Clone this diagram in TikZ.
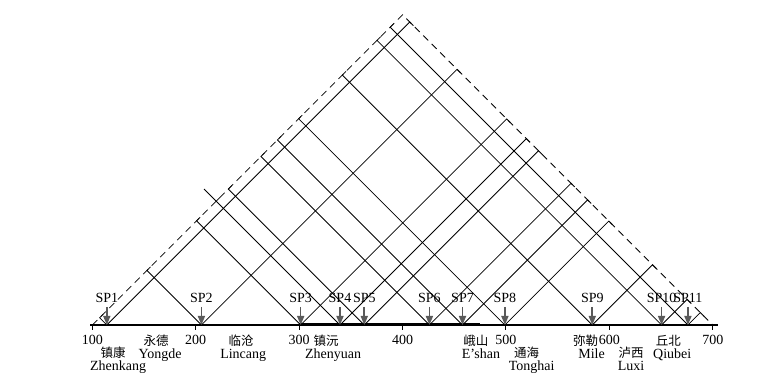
\documentclass[tikz,border=0pt]{standalone}
\usepackage{fontspec}
\setmainfont{Liberation Serif}
\newfontfamily\cjk{Noto Sans CJK SC}
\usetikzlibrary{arrows.meta, positioning}
\definecolor{shotgray}{RGB}{90, 90, 90}

\begin{document}
\begin{tikzpicture}[x=1.034pt, y=1.034pt,
    ray/.style={line width=0.8pt},
    bound/.style={line width=0.8pt, dash pattern=on 7pt off 5pt},
    shot/.style={-{Triangle[length=9pt, width=7pt]}, line width=1.6pt, shotgray},
    splabel/.style={inner sep=0pt, anchor=base, font=\fontsize{14}{16}\selectfont},
    ticklabel/.style={inner sep=0pt, anchor=base, font=\fontsize{14}{16}\selectfont},
    cnname/.style={inner sep=0pt, font=\cjk\fontsize{12.5}{14}\selectfont},
    pyname/.style={inner sep=0pt, text height=9.5pt, text depth=3pt, font=\fontsize{14}{16}\selectfont}]
  \useasboundingbox (10.7,-54.2) rectangle (748.6,314.3);

  % coverage boundary
  \coordinate (west) at (100,0);
  \coordinate (apex) at (400,300);
  \coordinate (east) at (700,0);
  \draw[bound] (west) -- (apex) -- (east);

  % rays of each shot point, closed by a short tick
  \foreach \n/\u in {1/114, 2/205.5, 3/301.5, 4/339.5, 5/363, 6/426, 7/458, 8/499, 9/583.5, 10/650.5, 11/676} {
    \coordinate (sp\n) at (\u,0);
    \coordinate (lt\n) at ({(\u+100)/2},{(\u-100)/2});
    \coordinate (rt\n) at ({(\u+700)/2},{(700-\u)/2});
    \draw[ray] ([shift={(3.5,3.5)}]lt\n) -- (lt\n) -- (sp\n) -- (rt\n) -- ([shift={(3.5,-3.5)}]rt\n);
  }
  \coordinate (lt4x) at (208,131.5);
  \draw[ray] (lt4) -- (lt4x);

  % profile axis
  \coordinate (axw) at (98,0);
  \coordinate (axe) at (705,0);
  \draw[line width=1.8pt] (axw) -- (axe);
  \draw[line width=3pt] (300,0) -- (475,0);
  \foreach \t in {100,200,...,700} {
    \draw[line width=1pt] (\t,0) -- (\t,-4.5);
    \node[ticklabel] (k\t) at (\t,-19.3) {\t};
  }

  % shot point labels
  \foreach \n/\u in {1/114, 2/205.5, 3/301.5, 4/339.5, 5/363, 6/426, 7/458, 8/499, 9/583.5, 10/650.5, 11/676} {
    \node[splabel] (l\n) at (\u,21.8) {SP\n};
    \draw[shot] ([yshift=-4pt]l\n.south) -- (sp\n);
  }

  % stations
  \node[cnname] (zk) at (120,-26.6) {镇康};
  \node[pyname, below=2pt of zk, xshift=5pt] (zkpy) {Zhenkang};
  \node[cnname] (yd) at (161.6,-15.5) {永德};
  \node[pyname, below=2pt of yd, xshift=4pt] (ydpy) {Yongde};
  \node[cnname] (lc) at (244,-15.5) {临沧};
  \node[pyname, below=2pt of lc, xshift=2pt] (lcpy) {Lincang};
  \node[cnname] (zy) at (326,-15.5) {镇沅};
  \node[pyname, below=2pt of zy, xshift=7pt] (zypy) {Zhenyuan};
  \node[cnname] (es) at (471,-15.5) {峨山};
  \node[pyname, below=2pt of es, xshift=5pt] (espy) {E'shan};
  \node[cnname] (th) at (520,-26.6) {通海};
  \node[pyname, below=2pt of th, xshift=5pt] (thpy) {Tonghai};
  \node[cnname] (ml) at (577,-15.5) {弥勒};
  \node[pyname, below=2pt of ml, xshift=6pt] (mlpy) {Mile};
  \node[cnname] (lx) at (621,-26.6) {泸西};
  \node[pyname, below=2pt of lx] (lxpy) {Luxi};
  \node[cnname] (qb) at (657,-15.5) {丘北};
  \node[pyname, below=2pt of qb, xshift=4pt] (qbpy) {Qiubei};
\end{tikzpicture}
\end{document}
